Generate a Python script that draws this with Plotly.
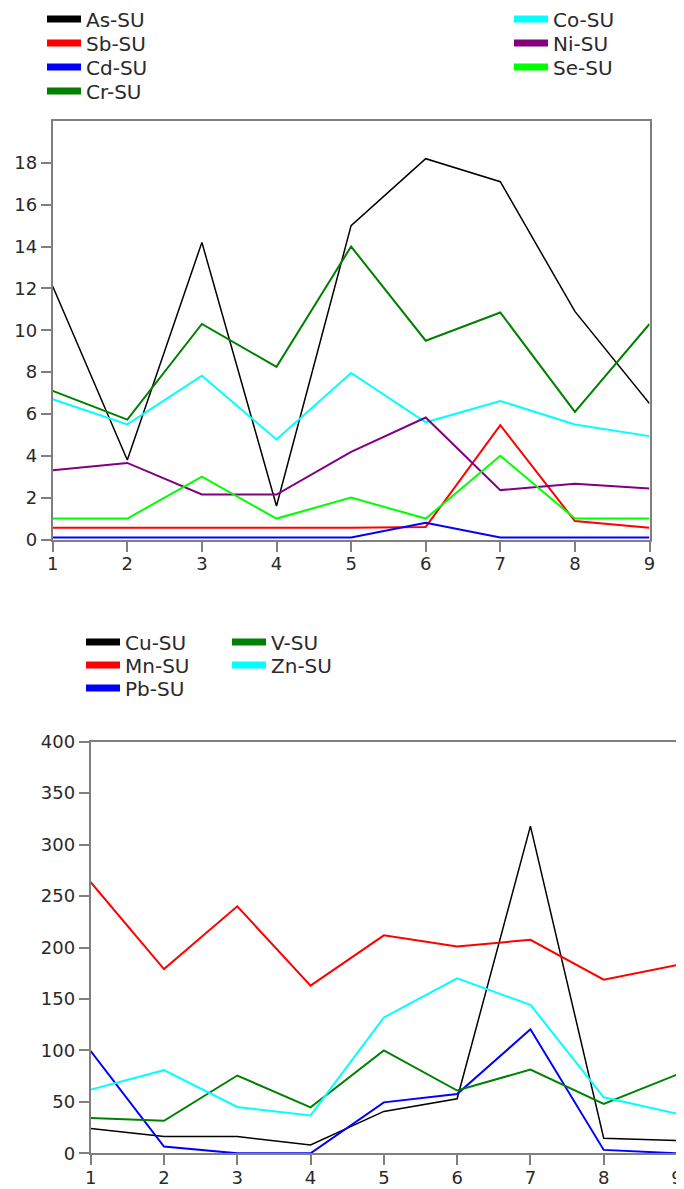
import plotly.graph_objects as go

samples = [1, 2, 3, 4, 5, 6, 7, 8, 9]

# Top chart series
as_su = [12.1, 3.8, 14.2, 1.6, 15.0, 18.2, 17.1, 10.9, 6.5]
sb_su = [0.56, 0.56, 0.56, 0.56, 0.56, 0.6, 5.46, 0.88, 0.56]
cd_su = [0.1, 0.1, 0.1, 0.1, 0.1, 0.8, 0.1, 0.1, 0.1]
cr_su = [7.1, 5.73, 10.3, 8.25, 14.0, 9.5, 10.85, 6.1, 10.3]
co_su = [6.7, 5.5, 7.83, 4.78, 7.96, 5.6, 6.62, 5.5, 4.94]
ni_su = [3.31, 3.66, 2.15, 2.15, 4.19, 5.83, 2.36, 2.67, 2.44]
se_su = [1.0, 1.0, 3.0, 1.0, 2.0, 1.0, 4.0, 1.0, 1.0]

# Bottom chart series
cu_su = [24, 16.3, 16.3, 8.1, 40.7, 53, 318, 14.7, 12.4]
mn_su = [263.4, 179, 240, 163, 211.8, 201, 207.5, 168.7, 183]
pb_su = [99.3, 6.5, 0, 0, 49.5, 57.6, 120.5, 3.3, 0]
v_su = [34.2, 31.6, 75.6, 44.6, 100, 61, 81.4, 47.9, 76.5]
zn_su = [61.9, 80.8, 45, 36.8, 132, 170, 144.3, 54.4, 38.4]

top_ticks = [0, 2, 4, 6, 8, 10, 12, 14, 16, 18]
bottom_ticks = [0, 50, 100, 150, 200, 250, 300, 350, 400]

FONT = "DejaVu Sans"
TXT = "#2a2a2a"
AXC = "#7f7f7f"

# page body has an 8px margin: the figure is drawn at (8, 8) in the window
OFF = 8
W, H = 684 - OFF, 1189 - OFF


def px(v):
    return (v - OFF) / W


def py(v):
    return 1 - (v - OFF) / H


# (name, values, colour, line width, legend id, legend x px, legend centre y px)
top_series = [
    ("As-SU", as_su, "#000000", 1.5, "legend", 42, 19),
    ("Sb-SU", sb_su, "#ff0000", 2, "legend2", 42, 43),
    ("Cd-SU", cd_su, "#0000ff", 2, "legend3", 42, 67),
    ("Cr-SU", cr_su, "#008000", 2, "legend4", 42, 91),
    ("Co-SU", co_su, "#00ffff", 2, "legend5", 509, 19),
    ("Ni-SU", ni_su, "#800080", 2, "legend6", 509, 43),
    ("Se-SU", se_su, "#00ff00", 2, "legend7", 509, 67),
]
bottom_series = [
    ("Cu-SU", cu_su, "#000000", 1.5, "legend8", 81, 642),
    ("Mn-SU", mn_su, "#ff0000", 2, "legend9", 81, 665),
    ("Pb-SU", pb_su, "#0000ff", 2, "legend10", 81, 688),
    ("V-SU", v_su, "#008000", 2, "legend11", 227, 642),
    ("Zn-SU", zn_su, "#00ffff", 2, "legend12", 227, 665),
]

fig = go.Figure()
legends = {}

for group, xa, ya in ((top_series, "x", "y"), (bottom_series, "x2", "y2")):
    for name, vals, col, w, lg, lx, ly in group:
        fig.add_trace(go.Scatter(x=samples, y=vals, mode="lines", name=name,
                                 line=dict(color=col, width=w), showlegend=False,
                                 xaxis=xa, yaxis=ya))
        fig.add_trace(go.Scatter(x=[None], y=[None], mode="lines", name=name,
                                 line=dict(color=col, width=7), legend=lg,
                                 xaxis=xa, yaxis=ya))
        legends[lg] = dict(x=px(lx), y=py(ly), xanchor="left", yanchor="middle",
                           bgcolor="rgba(0,0,0,0)", borderwidth=0, itemwidth=34,
                           font=dict(family=FONT, size=20, color=TXT))

axis_common = dict(showline=True, linecolor=AXC, linewidth=2, mirror=True,
                   ticks="outside", ticklen=10, tickwidth=2, tickcolor=AXC,
                   showgrid=False, zeroline=False, automargin=False,
                   tickfont=dict(family=FONT, size=18, color=TXT))

fig.update_layout(
    width=W, height=H,
    margin=dict(l=0, r=0, t=0, b=0, autoexpand=False),
    paper_bgcolor="white", plot_bgcolor="white",
    font=dict(family=FONT, size=18, color=TXT),
    xaxis=dict(domain=[px(52.7), px(649.5)], range=[1, 9], tickvals=samples,
               anchor="y", ticklabelstandoff=-3, **axis_common),
    yaxis=dict(domain=[py(539.5), py(121)], range=[0, 20],
               tickvals=top_ticks, anchor="x", **axis_common),
    xaxis2=dict(domain=[px(90.7), px(677)], range=[1, 9], tickvals=samples,
                anchor="y2", ticklabelstandoff=-3, **axis_common),
    yaxis2=dict(domain=[py(1153.3), py(741.7)], range=[0, 400],
                tickvals=bottom_ticks, anchor="x2", **axis_common),
    **legends,
)

fig.write_html("out.html")
